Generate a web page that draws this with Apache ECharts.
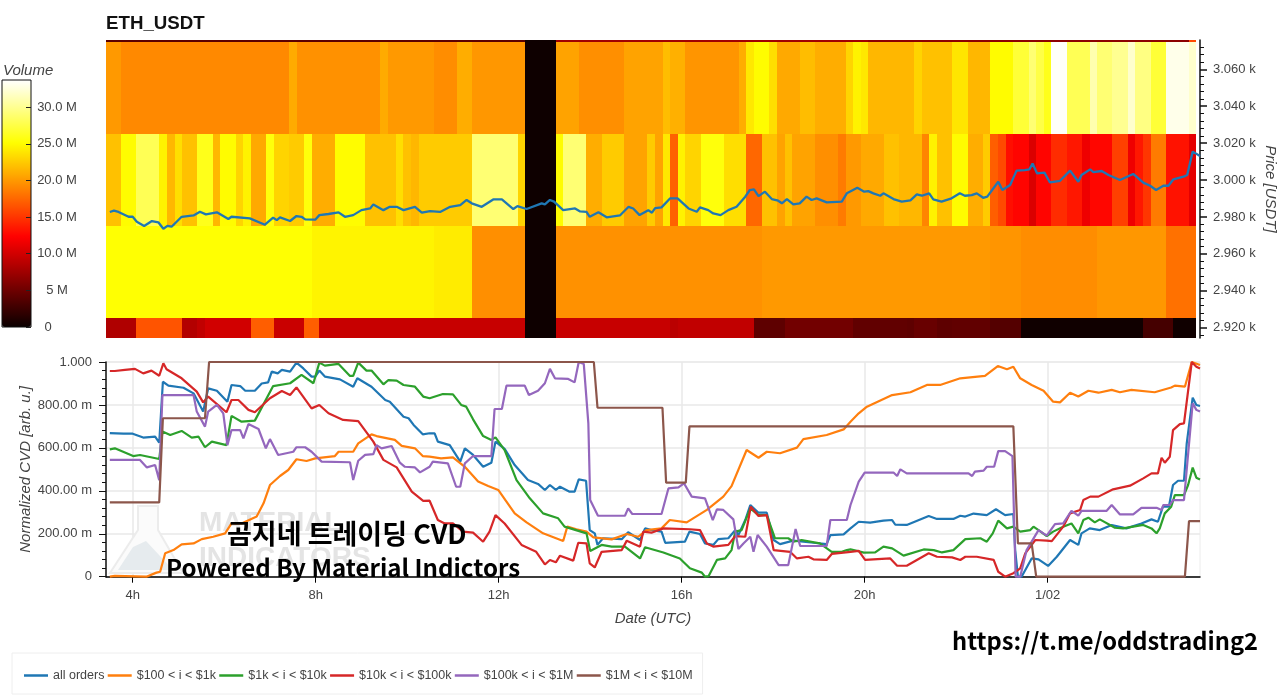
<!DOCTYPE html>
<html><head><meta charset="utf-8">
<style>html,body{margin:0;padding:0;background:#fff}#c{width:1280px;height:695px}</style>
<script src="https://cdn.jsdelivr.net/npm/echarts@6/dist/echarts.min.js"></script>
</head><body><div id="c"></div>
<script>
// ---------- data ----------
const binEdges=[2875,2925,2975,3025,3075,3125];
const cellStart=3.4164, cellHours=1/6;
// volume per price bin (millions), as [run length, value], 143 ten-minute columns
const volBin0=[[4,8.3],[6,16.5],[2,8.5],[1,9.2],[6,10],[3,17],[4,9.6],[2,17],[27,9.5],[4,.2],[15,9.5],[1,8.8],[10,9.2],[4,4.2],[9,5.2],[7,4.4],[1,4.2],[3,4.7],[2,4.2],[5,4.4],[4,3.7],[16,.3],[4,3],[3,.3]];
const volBin1=[[27,25.2],[16,24.6],[5,24.2],[7,19.5],[4,.2],[27,19.6],[30,20],[4,19.8],[10,19.4],[9,19.9],[4,18]];
const volBin2=[[2,22],[2,25],[3,28],[1,24.5],[1,21.5],[1,23.5],[2,22],[2,26],[1,21.5],[2,25],[1,23],[1,24.5],[2,20.8],[1,25.5],[2,23],[2,22.5],[1,25.5],[3,21],[4,25],[4,22],[1,23.5],[1,22],[1,21.5],[7,22.5],[6,29],[1,23],[4,.2],[1,25],[3,29],[2,21],[3,22.5],[3,20.5],[1,22.5],[1,20.5],[1,24],[1,17.2],[1,24.5],[2,23],[3,25.5],[3,23.5],[2,17.5],[2,22],[1,20.5],[1,22],[3,20.5],[3,19.5],[1,18.5],[2,20],[3,20.8],[2,22],[3,21.5],[1,19],[1,24.5],[2,22],[2,25],[2,21],[1,22.5],[1,17],[1,16],[1,13],[2,12.5],[1,10.5],[2,12.5],[2,14.5],[2,13.5],[1,11.5],[3,12.6],[2,15.5],[1,11.5],[1,13.5],[1,15],[2,18.5],[3,13.2],[1,11]];
const volBin3=[[2,20],[22,19.2],[1,20.9],[11,19.6],[1,20.9],[6,20],[3,19.4],[2,21],[7,19.9],[4,.2],[3,20.5],[6,19.5],[5,20.5],[1,21.8],[2,21.2],[7,19.8],[1,21],[1,24],[2,25],[1,23.5],[3,20.8],[2,21.8],[4,21],[1,23],[1,24.5],[1,24],[6,21.5],[1,23],[4,22],[2,23.8],[3,21.5],[3,25],[2,27],[1,29],[1,27.5],[1,26],[2,33.5],[3,28],[1,31],[2,29],[2,30],[1,32],[2,29.5],[2,27],[3,33],[1,32]];
const volBin4=[[55,4],[4,.2],[41,7.5],[42,6.5],[1,16]];

// series as [hour of day, value]
const priceLine=[[3.5,2982.7],[3.59,2983.4],[3.69,2982.7],[3.91,2980.1],[4,2980.1],[4.09,2977.4],[4.25,2975.1],[4.42,2977.8],[4.56,2977.1],[4.67,2973.6],[4.76,2975.2],[4.85,2974.7],[5.07,2980.1],[5.33,2980.8],[5.47,2982.8],[5.6,2981.4],[5.84,2982.5],[6.09,2978.9],[6.16,2980.1],[6.56,2979.2],[6.89,2975.8],[7.07,2979.6],[7.15,2978.3],[7.22,2979.8],[7.44,2977.8],[7.58,2980.5],[7.69,2980.1],[7.77,2978.7],[7.99,2978.5],[8.08,2981],[8.28,2981.6],[8.5,2982.5],[8.64,2980.1],[8.82,2981],[9,2983.7],[9.19,2984.6],[9.26,2986.8],[9.48,2983.7],[9.62,2985.5],[9.77,2985.5],[9.92,2983.7],[10.17,2985.5],[10.32,2982.3],[10.5,2983.2],[10.72,2982.7],[10.94,2985.5],[11.16,2986.4],[11.3,2989.2],[11.41,2987.4],[11.63,2985.5],[11.88,2989.5],[12.07,2989.5],[12.32,2984.3],[12.41,2985.9],[12.61,2984.3],[12.94,2987.4],[13.01,2986.8],[13.12,2989.2],[13.21,2988.3],[13.41,2983.7],[13.67,2984.6],[13.78,2983],[13.92,2982.8],[13.99,2980.1],[14.18,2982.5],[14.36,2979.8],[14.65,2980.8],[14.84,2985.5],[14.94,2984.6],[15.08,2981],[15.27,2983.7],[15.35,2982.3],[15.42,2984.8],[15.56,2985.2],[15.75,2990.1],[15.91,2990.1],[16.15,2984.6],[16.33,2982.8],[16.4,2985.2],[16.58,2983.7],[16.69,2981.9],[16.85,2981],[17.02,2983.7],[17.2,2985.5],[17.39,2991],[17.49,2994.6],[17.58,2994.9],[17.68,2991.3],[17.82,2993.7],[17.97,2989.7],[18.11,2988.8],[18.19,2987.4],[18.3,2989.7],[18.44,2986.8],[18.58,2987.4],[18.73,2991],[18.84,2989.2],[18.95,2990.1],[19.17,2987.9],[19.5,2988.3],[19.61,2992.8],[19.84,2995.8],[19.99,2993.7],[20.08,2994],[20.19,2992.8],[20.34,2991.5],[20.41,2992.8],[20.63,2989.7],[20.81,2988.3],[21,2989],[21.14,2992.2],[21.25,2991.5],[21.41,2992.8],[21.5,2989.5],[21.68,2988.3],[21.9,2990.1],[22.08,2992.8],[22.19,2991.5],[22.34,2991.8],[22.45,2992.8],[22.59,2990.4],[22.68,2991],[22.92,2999.1],[23.01,2994.6],[23.18,2997.3],[23.32,3005.1],[23.5,3005.4],[23.6,3005.8],[23.67,3009],[23.77,3003.6],[23.93,3004],[24.05,2998.7],[24.27,2999.6],[24.49,3005.1],[24.67,2999.1],[24.74,3002.7],[24.93,3005.8],[25,3004.3],[25.18,3004.9],[25.33,3002.7],[25.58,3000],[25.87,3003.3],[26.09,2998.6],[26.24,2996.9],[26.37,2994.6],[26.53,2996.9],[26.64,2996.9],[26.75,3000.4],[26.97,3001.8],[27.05,3002.7],[27.17,3015.4],[27.33,3013]];

// normalized CVD in thousandths
const cvdAll=[[3.5,669],[3.8,666],[4,666],[4.23,648],[4.49,652],[4.58,624],[4.66,908],[4.78,890],[5.11,880],[5.33,854],[5.54,769],[5.65,877],[5.84,866],[6.07,815],[6.16,893],[6.35,888],[6.46,866],[6.67,866],[6.82,900],[6.96,905],[7.04,955],[7.17,947],[7.26,963],[7.44,955],[7.58,997],[7.73,970],[7.91,932],[7.99,932],[8.08,960],[8.2,932],[8.53,919],[8.82,885],[8.91,924],[9.22,885],[9.52,823],[9.62,815],[9.92,745],[10.03,738],[10.14,707],[10.34,663],[10.49,668],[10.6,668],[10.67,629],[10.93,613],[11.16,536],[11.26,598],[11.44,567],[11.66,512],[11.84,531],[11.93,629],[12.13,595],[12.35,520],[12.64,450],[12.86,432],[13.01,404],[13.12,427],[13.25,404],[13.34,419],[13.55,396],[13.66,396],[13.75,453],[13.91,447],[13.99,217],[14.1,202],[14.16,148],[14.28,179],[14.69,175],[14.83,207],[15.09,171],[15.2,225],[15.34,217],[15.56,210],[15.64,158],[16.07,163],[16.17,210],[16.4,199],[16.51,155],[16.69,148],[16.8,175],[17.02,179],[17.17,217],[17.24,194],[17.39,264],[17.5,334],[17.68,298],[17.86,298],[18.01,171],[18.15,152],[18.44,168],[18.66,163],[18.88,158],[19.17,152],[19.25,194],[19.54,197],[19.69,225],[19.87,256],[20.12,252],[20.41,261],[20.6,264],[20.67,242],[20.92,241],[21.4,283],[21.58,269],[21.94,269],[22.09,284],[22.2,280],[22.38,294],[22.67,287],[22.87,314],[23.07,287],[23.25,292],[23.29,124],[23.35,0],[23.43,0],[23.65,85],[23.8,81],[24.01,50],[24.2,93],[24.49,171],[24.67,148],[24.74,202],[24.92,225],[25.14,217],[25.4,241],[25.72,225],[26.05,248],[26.27,267],[26.41,256],[26.52,326],[26.65,326],[26.74,427],[26.85,447],[26.98,447],[27.04,621],[27.17,834],[27.25,800],[27.33,795]];
const cvd100to1k=[[3.5,0],[3.61,4],[4.3,0],[4.52,19],[4.6,23],[4.71,109],[4.89,124],[5.07,151],[5.33,155],[5.51,175],[5.76,186],[6.02,202],[6.16,248],[6.38,248],[6.71,280],[6.86,342],[7,427],[7.22,469],[7.4,497],[7.58,547],[7.8,539],[7.99,551],[8.42,562],[8.5,582],[8.82,582],[8.93,621],[9.22,663],[9.33,655],[9.73,637],[9.88,609],[10.17,598],[10.34,562],[10.49,559],[10.74,551],[11,556],[11.26,512],[11.55,443],[11.77,422],[11.99,404],[12.35,295],[12.61,253],[12.97,202],[13.41,166],[13.5,233],[13.7,221],[13.92,210],[14.07,183],[14.47,174],[14.8,199],[15.05,186],[15.23,217],[15.56,225],[15.74,264],[16.11,253],[16.55,311],[16.91,373],[17.09,422],[17.42,590],[17.68,554],[17.86,582],[18.15,575],[18.52,601],[18.66,641],[19.17,660],[19.54,686],[19.69,722],[19.87,761],[20.05,792],[20.6,846],[21,859],[21.36,893],[21.65,893],[22.09,924],[22.63,935],[22.91,981],[23.11,966],[23.25,978],[23.4,924],[23.65,893],[23.91,866],[24.12,815],[24.27,812],[24.49,857],[24.67,839],[24.89,866],[25.11,857],[25.4,870],[25.58,859],[25.83,870],[26.34,859],[26.7,881],[26.78,890],[27,885],[27.15,1000],[27.33,986]];
const cvd1kto10k=[[3.5,593],[3.61,598],[4.01,562],[4.16,567],[4.58,548],[4.65,676],[4.82,660],[5.07,679],[5.29,648],[5.44,652],[5.58,603],[5.73,629],[6.05,613],[6.16,749],[6.38,722],[6.67,727],[7.07,888],[7.44,901],[7.69,940],[7.95,901],[8.08,997],[8.2,983],[8.5,991],[8.75,935],[8.82,935],[8.93,997],[9.11,960],[9.22,960],[9.48,896],[9.59,916],[9.77,913],[9.92,893],[10.17,885],[10.35,839],[10.49,831],[10.78,851],[11,849],[11.18,800],[11.29,792],[11.44,733],[11.66,655],[11.84,637],[11.93,649],[12.13,590],[12.39,450],[12.68,365],[12.97,295],[13.3,272],[13.44,233],[13.92,202],[14,120],[14.25,148],[14.47,140],[14.76,140],[15.09,85],[15.2,137],[15.6,113],[15.96,85],[16.18,39],[16.44,19],[16.51,0],[16.59,3],[16.77,78],[16.95,85],[17.09,124],[17.17,210],[17.31,217],[17.5,318],[17.68,287],[17.86,287],[18.04,179],[18.33,179],[18.44,163],[18.62,171],[19.02,155],[19.28,116],[19.5,116],[19.61,124],[19.69,127],[19.83,121],[19.98,112],[20.23,113],[20.41,140],[20.6,132],[20.85,98],[21.29,127],[21.51,124],[21.69,113],[21.94,124],[22.2,175],[22.53,179],[22.67,163],[22.8,202],[22.92,261],[23.11,225],[23.25,233],[23.4,210],[23.62,217],[23.69,233],[23.8,217],[23.98,189],[24.12,210],[24.34,233],[24.52,248],[24.67,202],[24.78,264],[24.89,275],[25.03,253],[25.14,267],[25.47,228],[25.65,225],[26.09,241],[26.27,225],[26.38,202],[26.45,225],[26.56,295],[26.7,326],[26.78,380],[26.98,380],[27.07,427],[27.17,508],[27.25,461],[27.33,453]];
const cvd10kto100k=[[3.5,958],[3.61,958],[3.83,963],[4.05,968],[4.23,947],[4.41,960],[4.58,936],[4.67,994],[4.74,966],[5.07,924],[5.4,862],[5.54,812],[5.65,839],[6.05,766],[6.16,823],[6.31,823],[6.53,777],[6.67,766],[7,831],[7.26,865],[7.44,846],[7.58,882],[7.91,784],[8.08,800],[8.28,761],[8.6,730],[8.93,725],[9.26,629],[9.48,544],[9.77,509],[10.1,396],[10.35,353],[10.49,354],[10.67,264],[10.82,248],[11,248],[11.22,210],[11.44,205],[11.66,163],[11.8,210],[11.93,287],[12.13,248],[12.5,148],[12.82,116],[13.01,57],[13.12,78],[13.25,67],[13.34,98],[13.63,75],[13.74,158],[13.92,155],[13.99,62],[14.1,43],[14.25,116],[14.69,124],[14.8,168],[15.09,140],[15.16,210],[15.34,205],[15.6,225],[16.18,221],[16.4,217],[16.55,155],[16.69,140],[17.02,148],[17.17,189],[17.39,186],[17.51,326],[17.68,283],[17.86,287],[18.01,124],[18.37,116],[18.52,85],[18.77,93],[18.88,81],[19.17,78],[19.28,106],[19.69,116],[19.87,120],[20.01,78],[20.56,85],[20.71,51],[20.92,51],[21.4,109],[21.58,93],[21.91,90],[22.09,78],[22.2,93],[22.45,93],[22.82,78],[22.92,23],[23.07,0],[23.25,16],[23.4,39],[23.51,109],[23.73,171],[23.98,168],[24.09,166],[24.34,233],[24.49,295],[24.71,311],[24.78,357],[24.93,373],[25.11,373],[25.43,407],[25.8,424],[26.09,458],[26.27,481],[26.41,481],[26.49,554],[26.56,531],[26.67,559],[26.74,683],[26.89,711],[26.98,714],[27.15,1000],[27.25,978],[27.33,970]];
const cvd100kto1M=[[3.5,544],[4.16,544],[4.31,509],[4.49,520],[4.58,450],[4.65,846],[5.33,846],[5.4,769],[5.58,699],[5.65,769],[5.84,800],[5.98,761],[6.07,613],[6.16,683],[6.35,683],[6.42,644],[6.53,711],[6.75,688],[6.91,598],[7,641],[7.18,567],[7.51,582],[7.58,603],[7.77,603],[7.91,582],[8.13,536],[8.75,533],[8.82,450],[8.93,540],[9.08,567],[9.26,571],[9.33,613],[9.44,598],[9.66,609],[9.84,531],[9.95,512],[10.17,509],[10.28,486],[10.49,512],[10.56,536],[10.89,528],[11.07,419],[11.16,419],[11.26,528],[11.44,562],[11.84,562],[11.91,781],[12.07,781],[12.17,890],[12.57,890],[12.66,846],[12.86,866],[13.01,901],[13.12,968],[13.23,924],[13.52,921],[13.66,905],[13.75,1000],[13.86,991],[13.96,714],[14,357],[14.17,284],[14.76,284],[14.83,318],[14.92,292],[15.56,292],[15.71,411],[15.93,416],[16.05,435],[16.22,373],[16.51,365],[16.68,264],[16.77,314],[16.91,311],[17.13,267],[17.24,129],[17.35,155],[17.5,186],[17.57,116],[17.66,194],[17.86,140],[18.12,54],[18.33,54],[18.49,222],[18.59,143],[19.17,143],[19.25,264],[19.61,264],[19.69,334],[19.87,443],[20,485],[20.63,485],[20.71,469],[20.78,500],[20.92,481],[22.27,481],[22.35,469],[22.41,489],[22.6,494],[22.67,512],[22.83,512],[22.92,585],[23.07,585],[23.23,562],[23.3,0],[23.4,0],[23.54,124],[23.8,217],[23.98,191],[24.16,245],[24.34,248],[24.52,307],[24.67,284],[24.74,307],[25.29,307],[25.4,334],[25.58,290],[25.87,290],[26.05,321],[26.38,321],[26.49,311],[26.53,334],[26.67,334],[26.74,357],[26.98,357],[27.17,808],[27.25,777],[27.33,769]];
const cvd1Mto10M=[[3.5,346],[4.58,346],[4.66,738],[5.58,738],[5.67,1000],[14.08,1000],[14.16,787],[15.58,787],[15.66,438],[16.09,438],[16.17,700],[23.25,700],[23.35,155],[23.65,155],[23.75,0],[27,0],[27.09,259],[27.33,259]];

const seriesNames=['all orders','$100 < i < $1k','$1k < i < $10k','$10k < i < $100k','$100k < i < $1M','$1M < i < $10M'];
const cvdValues=[cvdAll,cvd100to1k,cvd1kto10k,cvd10kto100k,cvd100kto1M,cvd1Mto10M];
const seriesColors=['#1f77b4','#ff7f0e','#2ca02c','#d62728','#9467bd','#8c564b'];

const timeTicks=[4,8,12,16,20,24];
const timeLabels=['4h','8h','12h','16h','20h','1/02'];
const priceTicks=[2920,2940,2960,2980,3000,3020,3040,3060];
const priceLabels=['2.920 k','2.940 k','2.960 k','2.980 k','3.000 k','3.020 k','3.040 k','3.060 k'];
const priceMinor=[2916,2924,2928,2932,2936,2944,2948,2952,2956,2964,2968,2972,2976,2984,2988,2992,2996,3004,3008,3012,3016,3024,3028,3032,3036,3044,3048,3052,3056,3064,3068,3072];
const cvdTicks=[0,200,400,600,800,1000];
const cvdLabels=['0','200.00 m','400.00 m','600.00 m','800.00 m','1.000'];
const cvdMinor=[40,80,120,160,240,280,320,360,440,480,520,560,640,680,720,760,840,880,920,960];
const volTicks=[0,5,10,15,20,25,30];
const volLabels=['{z|0}','5 M','10.0 M','15.0 M','20.0 M','25.0 M','30.0 M'];

// ---------- build ----------
const expand=r=>r.flatMap(([n,v])=>Array(n).fill(v));
const volRows=[volBin0,volBin1,volBin2,volBin3,volBin4].map(expand);
const cells=[];
volRows.forEach((row,b)=>row.forEach((v,i)=>{
  cells.push([cellStart+i*cellHours,cellStart+(i+1)*cellHours,binEdges[b],binEdges[b+1],v]);
}));
const anchors=[[0,[10,0,0]],[.365,[255,0,0]],[.746,[255,255,0]],[1,[255,255,255]]];
const hot=[];
for(let k=0;k<=200;k++){
  const t=k/200;let j=0;while(j<2&&t>anchors[j+1][0])j++;
  const f=(t-anchors[j][0])/(anchors[j+1][0]-anchors[j][0]);
  const c=anchors[j][1].map((a,m)=>Math.round(a+(anchors[j+1][1][m]-a)*f));
  hot.push(`rgb(${c.join(',')})`);
}
const font='"Liberation Sans", Arial, sans-serif';
const grey='#444';
const lab=(vals,names,extra)=>Object.assign({customValues:vals,color:grey,fontSize:13,fontFamily:font,
  formatter:v=>names[vals.indexOf(v)]},extra||{});
const nameStyle={color:grey,fontSize:15,fontStyle:'italic',fontFamily:font};
const xLine={lineStyle:{color:'#000',width:1.5}};
const noBounds={outerBoundsMode:'none',containLabel:false};

const chart=echarts.init(document.getElementById('c'),null,{renderer:'canvas'});
chart.setOption({
  animation:false,
  backgroundColor:'#fff',
  title:{text:'ETH_USDT',left:106,top:14,padding:0,textStyle:{fontSize:18.7,fontWeight:'bold',color:'#111',fontFamily:font}},
  grid:[
    {left:106,top:40,width:1094,height:298,...noBounds},
    {left:106,top:362,width:1094,height:214.7,show:true,borderColor:'#ececec',borderWidth:1,...noBounds},
    {left:2,top:80,width:29,height:247,show:true,borderColor:'#111',borderWidth:1,z:10,backgroundColor:'transparent',...noBounds}
  ],
  xAxis:[
    {gridIndex:0,type:'value',min:3.4164,max:27.33,show:false},
    {gridIndex:1,type:'value',min:3.4164,max:27.33,name:'Date (UTC)',nameLocation:'middle',nameGap:35,nameMoveOverlap:false,nameTextStyle:nameStyle,
     axisLine:xLine,axisTick:{customValues:timeTicks,length:6,lineStyle:{color:'#000'}},
     axisLabel:lab(timeTicks,timeLabels,{margin:12}),
     splitLine:{show:true,lineStyle:{color:'#e8e8e8',width:1.5}}},
    {gridIndex:2,type:'value',min:0,max:1,show:false}
  ],
  yAxis:[
    {gridIndex:0,type:'value',position:'right',min:2914.4,max:3075.9,name:'Price [USDT]',nameLocation:'middle',nameRotate:-90,nameGap:63,nameMoveOverlap:false,nameTextStyle:nameStyle,
     axisLine:{show:true,lineStyle:{color:'#111',width:1.5}},axisTick:{show:true,customValues:priceTicks,length:7,lineStyle:{color:'#111',width:1.5}},
     axisLabel:lab(priceTicks,priceLabels,{margin:13}),splitLine:{show:false}},
    {gridIndex:0,type:'value',position:'right',min:2914.4,max:3075.9,
     axisLine:{show:false},axisTick:{show:true,customValues:priceMinor,length:4,lineStyle:{color:'#111',width:1}},
     axisLabel:{show:false},splitLine:{show:false}},
    {gridIndex:1,type:'value',min:0,max:1000,name:'Normalized CVD [arb. u.]',nameLocation:'middle',nameRotate:90,nameGap:73,nameMoveOverlap:false,nameTextStyle:nameStyle,
     axisLine:{show:true,lineStyle:{color:'#111',width:1.5}},axisTick:{show:true,customValues:cvdTicks,length:7,lineStyle:{color:'#111'}},
     axisLabel:lab(cvdTicks,cvdLabels,{margin:14}),
     splitLine:{show:true,lineStyle:{color:'#e8e8e8',width:1.5}}},
    {gridIndex:1,type:'value',min:0,max:1000,position:'left',
     axisLine:{show:false},axisTick:{show:true,customValues:cvdMinor,length:4,lineStyle:{color:'#111'}},
     axisLabel:{show:false},splitLine:{show:false}},
    {gridIndex:2,type:'value',position:'right',min:0,max:33.7,z:10,
     axisLine:{show:false,onZero:false},axisTick:{show:true,inside:true,customValues:volTicks,length:5,lineStyle:{color:'#222'}},
     axisLabel:lab(volTicks,volLabels,{margin:26,align:'center',rich:{z:{color:grey,fontSize:13,fontFamily:font,padding:[0,18,0,0]}}}),splitLine:{show:false}}
  ],
  visualMap:{type:'continuous',seriesIndex:0,dimension:4,min:0,max:33.7,left:2,top:80,itemWidth:29,itemHeight:247,padding:0,
    text:['',''],calculable:false,hoverLink:false,realtime:false,silent:true,inRange:{color:hot},textStyle:{fontSize:1,color:'#fff'}},
  legend:{left:12,top:653,padding:[16,10,12,12],borderColor:'#eee',borderWidth:1,itemWidth:24,itemHeight:2.5,itemGap:3.3,icon:'rect',
    data:seriesNames,selectedMode:false,textStyle:{color:grey,fontSize:12.5,fontFamily:font}},
  graphic:[
    {type:'text',left:3,top:63,style:{text:'Volume',fill:grey,font:'italic 15px '+font}},
    {type:'polygon',z:1,shape:{points:[[138,506],[158,506],[158,530],[183,573],[110,573],[138,530]]},style:{fill:'#fbfbfb',stroke:'#ececec',lineWidth:2}},
    {type:'polygon',z:1,shape:{points:[[133,547],[146,541],[173,570],[118,570]]},style:{fill:'#e6ebee'}},
    {type:'text',z:1,left:199,top:509,style:{text:'MATERIAL',fill:'#e4e4e4',font:'bold 28px '+font}},
    {type:'text',z:1,left:199,top:544,style:{text:'INDICATORS',fill:'#e4e4e4',font:'bold 28px '+font}},
    {type:'text',z:100,left:227,top:520,style:{text:'곰지네 트레이딩 CVD',fill:'#000',font:'bold 27px "Noto Sans CJK KR"'}},
    {type:'text',z:100,left:166,top:556,style:{text:'Powered By Material Indictors',fill:'#000',font:'bold 24.1px "Noto Sans CJK KR"'}},
    {type:'text',z:100,left:952,top:629,style:{text:'https://t.me/oddstrading2',fill:'#000',font:'bold 23.7px "Noto Sans CJK KR"'}}
  ],
  series:[
    {type:'custom',xAxisIndex:0,yAxisIndex:0,data:cells,encode:{x:[0,1],y:[2,3]},silent:true,
     renderItem:(params,api)=>{
       const a=api.coord([api.value(0),api.value(3)]);
       const b=api.coord([api.value(1),api.value(2)]);
       const rect=echarts.graphic.clipRectByRect(
         {x:Math.round(a[0]),y:Math.round(a[1]),width:Math.round(b[0])-Math.round(a[0]),height:Math.round(b[1])-Math.round(a[1])},
         {x:params.coordSys.x,y:params.coordSys.y,width:params.coordSys.width,height:params.coordSys.height});
       return rect&&{type:'rect',shape:rect,style:{fill:api.visual('color')}};
     }},
    {type:'line',name:'price',xAxisIndex:0,yAxisIndex:0,data:priceLine,symbol:'none',clip:false,z:5,
     lineStyle:{color:'#1f77b4',width:2.3},silent:true},
    ...seriesNames.map((n,i)=>({type:'line',name:n,xAxisIndex:1,yAxisIndex:2,data:cvdValues[i],symbol:'none',clip:false,
     z:5,itemStyle:{color:seriesColors[i]},lineStyle:{color:seriesColors[i],width:2.2},silent:true}))
  ]
});
</script></body></html>
